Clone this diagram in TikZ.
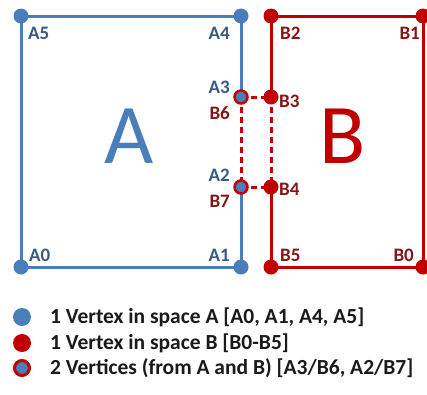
\documentclass[tikz,border=0pt]{standalone}
\usepackage{fontspec}
\setmainfont{Carlito}
\begin{document}
\definecolor{ablue}{HTML}{4A7EBB}
\definecolor{bred}{HTML}{C00000}
\definecolor{alabel}{HTML}{3A5A82}
\definecolor{blabel}{HTML}{861414}
\definecolor{legtext}{HTML}{1A1A1A}
\begin{tikzpicture}[x=1pt,y=-1pt,
  edgeA/.style={draw=ablue,line width=3pt},
  edgeB/.style={draw=bred,line width=3pt},
  shared/.style={draw=bred,line width=3pt,dash pattern=on 6pt off 4pt},
  adot/.style={circle,fill=ablue,inner sep=0pt,minimum size=15pt},
  bdot/.style={circle,fill=bred,inner sep=0pt,minimum size=15pt},
  abdot/.style={circle,fill=ablue,draw=bred,line width=2.5pt,inner sep=0pt,minimum size=13pt},
  labA/.style={text=alabel,font=\fontsize{19}{19}\selectfont\bfseries,inner sep=0pt},
  labB/.style={text=blabel,font=\fontsize{19}{19}\selectfont\bfseries,inner sep=0pt},
  bigletter/.style={font=\fontsize{85}{85}\selectfont,inner sep=0pt,anchor=base},
  legend/.style={text=legtext,font=\fontsize{21.5}{21.5}\selectfont\bfseries,anchor=west,inner sep=0pt}]
\useasboundingbox (0,0) rectangle (427,394);
\fill[white] (0,0) rectangle (427,394);

% vertex positions
\coordinate (A0) at (21,267);
\coordinate (A1) at (241,267);
\coordinate (A2) at (241,187);
\coordinate (A3) at (241,97);
\coordinate (A4) at (241,16);
\coordinate (A5) at (21,16);
\coordinate (B0) at (423,267);
\coordinate (B1) at (423,16);
\coordinate (B2) at (271,16);
\coordinate (B3) at (271,97);
\coordinate (B4) at (271,187);
\coordinate (B5) at (271,267);

% outlines of space A and space B
\draw[edgeA] (A3) -- (A4) -- (A5) -- (A0) -- (A1) -- (A2);
\draw[edgeB] (B3) -- (B2) -- (B1) -- (B0) -- (B5) -- (B4);

% shared boundary between the two spaces
\draw[shared] (A3) -- (A2);
\draw[shared] (B3) -- (B4);
\draw[shared] (A3) -- (B3);
\draw[shared] (A2) -- (B4);

% vertices
\node[adot] (vA0) at (A0) {};
\node[adot] (vA1) at (A1) {};
\node[adot] (vA4) at (A4) {};
\node[adot] (vA5) at (A5) {};
\node[abdot] (vA2) at (A2) {};
\node[abdot] (vA3) at (A3) {};
\node[bdot] (vB0) at (B0) {};
\node[bdot] (vB1) at (B1) {};
\node[bdot] (vB2) at (B2) {};
\node[bdot] (vB3) at (B3) {};
\node[bdot] (vB4) at (B4) {};
\node[bdot] (vB5) at (B5) {};

% vertex labels
\node[labA,anchor=west] (tA5) at (28,33) {A5};
\node[labA,anchor=east] (tA4) at (230,33) {A4};
\node[labA,anchor=east] (tA3) at (230,87) {A3};
\node[labB,anchor=east] (tB6) at (230,113) {B6};
\node[labA,anchor=east] (tA2) at (230,175) {A2};
\node[labB,anchor=east] (tB7) at (230,201) {B7};
\node[labA,anchor=west] (tA0) at (29,255) {A0};
\node[labA,anchor=east] (tA1) at (230,255) {A1};
\node[labB,anchor=west] (tB2) at (280,33) {B2};
\node[labB,anchor=east] (tB1) at (420,33) {B1};
\node[labB,anchor=west] (tB3) at (279,101) {B3};
\node[labB,anchor=west] (tB4) at (279,189) {B4};
\node[labB,anchor=west] (tB5) at (280,255) {B5};
\node[labB,anchor=east] (tB0) at (414,255) {B0};

% space names
\node[bigletter,text=ablue] (nameA) at (129,163) {A};
\node[bigletter,text=bred] (nameB) at (343,163) {B};

% legend
\node[adot,minimum size=18pt] (kA) at (22,317) {};
\node[bdot,minimum size=18pt] (kB) at (22,343) {};
\node[abdot,minimum size=15pt,line width=3pt] (kAB) at (22,368) {};
\node[legend] (lA) at (50,317) {1 Vertex in space A [A0, A1, A4, A5]};
\node[legend] (lB) at (50,343) {1 Vertex in space B [B0-B5]};
\node[legend] (lAB) at (50,368) {2 Vertices (from A and B) [A3/B6, A2/B7]};
\end{tikzpicture}
\end{document}
